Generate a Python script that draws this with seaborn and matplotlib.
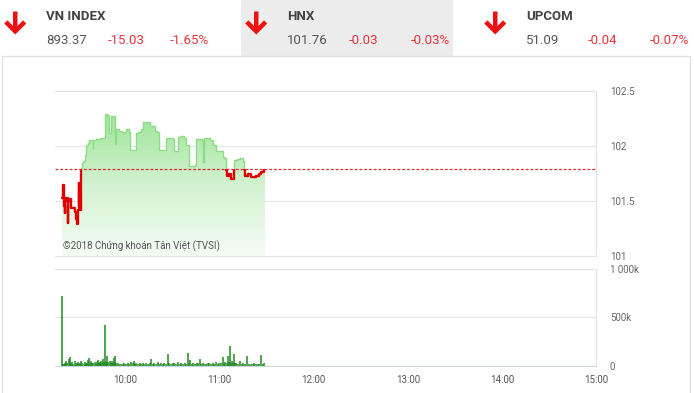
import numpy as np
import matplotlib
matplotlib.use("Agg")
import matplotlib.pyplot as plt
import seaborn as sns
from matplotlib import font_manager
from matplotlib.colors import LinearSegmentedColormap
from matplotlib.patches import Rectangle, Polygon

# ---------------- data ----------------
indices = ["VN INDEX", "HNX", "UPCOM"]
index_values = ["893.37", "101.76", "51.09"]
index_changes = ["-15.03", "-0.03", "-0.04"]
index_pcts = ["-1.65%", "-0.03%", "-0.07%"]

ref_price = 101.79

# minutes since 09:00
price_t = [19.3, 19.8, 20.2, 20.6, 21.1, 21.6, 22.1, 23.0, 23.5, 24.5, 25.4, 26.5, 27.5, 28.0,
           28.5, 29.0, 29.5, 30.0, 30.5, 31.0, 31.5, 32.0, 33.0, 34.0, 35.0, 36.0, 37.0, 38.0,
           39.0, 39.5, 41.0, 43.4, 45.0, 46.6, 48.0, 49.5, 50.5, 52.0, 53.0, 53.5, 54.0, 56.0,
           58.0, 60.0, 62.5, 63.0, 65.0, 66.8, 68.0, 70.0, 71.0, 73.0, 75.3, 77.0, 78.5, 80.0,
           81.6, 83.0, 85.9, 88.0, 90.0, 91.2, 92.5, 93.3, 95.0, 97.0, 98.6, 100.7, 102.0, 104.0,
           104.9, 107.0, 108.5, 109.2, 110.0, 112.0, 114.0, 115.6, 117.7, 120.0, 121.9, 123.0,
           124.0, 124.5, 126.0, 127.2, 128.5, 129.4, 131.0, 133.0, 135.0, 135.7, 136.0, 138.0,
           140.0, 141.0, 143.0, 145.0, 146.5, 148.5, 148.9]
price_v = [101.53, 101.60, 101.64, 101.45, 101.39, 101.50, 101.53, 101.30, 101.50, 101.52, 101.43,
           101.43, 101.42, 101.40, 101.33, 101.29, 101.42, 101.66, 101.45, 101.42, 101.80, 101.84,
           101.86, 101.92, 102.01, 102.03, 102.05, 102.05, 101.98, 102.05, 102.06, 102.07, 102.07,
           102.29, 102.28, 102.12, 102.27, 102.27, 102.10, 102.02, 102.15, 102.14, 102.13, 102.15,
           102.13, 101.96, 101.96, 102.12, 102.13, 102.15, 102.22, 102.22, 102.18, 102.18, 102.14,
           102.13, 101.96, 101.96, 102.07, 102.07, 102.06, 101.95, 101.95, 102.08, 102.09, 102.07,
           102.01, 101.82, 101.82, 101.83, 102.06, 102.06, 102.05, 101.85, 102.07, 102.07, 102.05,
           102.01, 101.95, 101.95, 101.90, 101.89, 101.78, 101.73, 101.74, 101.70, 101.70, 101.87,
           101.88, 101.89, 101.86, 101.79, 101.73, 101.74, 101.72, 101.72, 101.73, 101.74, 101.76,
           101.79, 101.79]

vol_t = [19.3, 20.0, 20.6, 21.1, 21.8, 22.2, 22.8, 23.7, 24.3, 24.7, 25.3, 25.8, 26.5, 27.5, 28.2,
         28.8, 29.6, 30.3, 31.0, 31.7, 32.5, 33.2, 33.9, 34.6, 35.3, 36.0, 36.8, 37.4, 38.1, 38.8,
         39.5, 40.2, 40.9, 41.6, 42.3, 43.0, 43.8, 44.5, 45.0, 45.5, 46.2, 47.0, 47.6, 48.3, 49.0,
         49.8, 50.5, 51.3, 51.9, 52.5, 53.0, 53.4, 54.2, 55.1, 56.0, 57.2, 58.2, 59.3, 60.4, 61.5,
         62.5, 63.6, 64.5, 65.3, 66.0, 66.8, 67.8, 68.9, 70.0, 71.0, 72.0, 73.1, 74.5, 75.5, 76.3,
         77.3, 78.4, 79.5, 80.6, 81.6, 82.7, 83.8, 84.8, 85.8, 86.9, 88.0, 89.1, 90.1, 91.2, 92.2,
         93.3, 94.4, 95.4, 96.5, 97.6, 98.6, 99.7, 100.5, 101.4, 102.1, 102.9, 104.1, 105.4, 106.4,
         107.5, 108.3, 109.2, 110.3, 111.4, 112.4, 113.5, 114.5, 115.6, 116.6, 117.7, 118.8, 119.9,
         121.0, 122.0, 122.8, 123.7, 124.5, 125.2, 125.9, 126.6, 127.3, 127.9, 128.5, 129.0, 129.8,
         130.5, 131.8, 133.0, 134.0, 135.1, 136.3, 137.5, 138.8, 140.0, 141.0, 142.1, 143.2, 144.3,
         145.4, 146.4, 147.5, 148.5]
vol_k = [722, 20, 15, 30, 18, 45, 25, 73, 30, 90, 20, 40, 22, 45, 20, 30, 38, 18, 25, 52, 28, 20,
         38, 25, 30, 62, 80, 30, 45, 25, 30, 38, 22, 35, 59, 28, 40, 52, 30, 69, 35, 416, 40, 97,
         35, 45, 30, 52, 25, 80, 40, 104, 25, 28, 18, 21, 15, 28, 20, 28, 22, 35, 25, 52, 18, 28,
         20, 28, 15, 28, 18, 28, 20, 25, 69, 20, 28, 22, 38, 18, 28, 20, 28, 22, 122, 25, 21, 25,
         28, 20, 38, 22, 28, 20, 28, 22, 132, 30, 62, 20, 28, 18, 28, 25, 69, 22, 28, 18, 21, 25,
         28, 20, 28, 22, 35, 22, 28, 30, 87, 25, 35, 30, 97, 40, 200, 30, 45, 28, 125, 25, 28, 22,
         52, 20, 28, 22, 104, 20, 21, 22, 28, 20, 21, 18, 115, 20, 28]

time_ticks = [60, 120, 180, 240, 300, 360]
time_labels = ["10:00", "11:00", "12:00", "13:00", "14:00", "15:00"]
price_ticks = [101, 101.5, 102, 102.5]
price_labels = ["101", "101.5", "102", "102.5"]
vol_ticks = [0, 500, 1000]
vol_labels = ["0", "500k", "1 000k"]

# ---------------- style ----------------
sns.set_style("white")
names = {f.name for f in font_manager.fontManager.ttflist}
hdr_font = "Liberation Sans Narrow" if "Liberation Sans Narrow" in names else "Roboto"
plt.rcParams["font.family"] = ["Roboto", "DejaVu Sans"]

W, H = 694, 393
fig = plt.figure(figsize=(W / 100, H / 100), dpi=100)

# background layer (pixel coordinates)
back = fig.add_axes([0, 0, 1, 1], zorder=-6)
back.set_xlim(0, W)
back.set_ylim(H, 0)
back.axis("off")
back.add_patch(Rectangle((241, 0), 212, 55.5, facecolor="#ececec", edgecolor="none"))
back.add_patch(Rectangle((2, 56), 688, 340, facecolor="white", edgecolor="#e2e2e2", lw=1))

# overlay layer for header texts / watermark (pixel coordinates)
over = fig.add_axes([0, 0, 1, 1], zorder=10)
over.set_xlim(0, W)
over.set_ylim(H, 0)
over.axis("off")
over.patch.set_visible(False)

red = "#e8343a"
blocks_x = [15, 256, 495]
arrow = [(13, 11.5), (17.5, 11.5), (17.5, 26), (23, 20.3), (26.3, 23.5), (15.25, 34.5),
         (4.2, 23.5), (7.5, 20.3), (13, 26)]
for i, bx in enumerate(blocks_x):
    over.add_patch(Polygon([(bx - 15 + x, y) for x, y in arrow], closed=True,
                           facecolor="#ee1111", edgecolor="none"))
    tx = bx + 31
    over.text(tx, 17, indices[i], fontsize=9.5, fontweight="bold", color="#444444",
              family=hdr_font, va="center", ha="left")
    over.text(tx, 40, index_values[i], fontsize=9.5, color="#555555", family=hdr_font,
              va="center", ha="left")
    over.text(tx + 62, 40, index_changes[i], fontsize=9.5, color=red, family=hdr_font,
              va="center", ha="left")
    over.text(tx + 124, 40, index_pcts[i], fontsize=9.5, color=red, family=hdr_font,
              va="center", ha="left")

over.text(63, 246, "©2018 Chứng khoán Tân Việt (TVSI)", fontsize=7, color="#555555",
          va="center", ha="left")

# chart panels
left, right = 55 / W, 596 / W
ax = fig.add_axes([left, 1 - 255.7 / H, right - left, (255.7 - 91) / H])
axv = fig.add_axes([left, 1 - 365.7 / H, right - left, (365.7 - 269) / H])
for a in (ax, axv):
    a.set_facecolor("none")

xmin, xmax = 15, 360
t = np.array(price_t)
p = np.array(price_v)

# gradient fill under price line
poly = ax.fill_between(t, p, 101, step="post", facecolor="none", edgecolor="none")
cmap = LinearSegmentedColormap.from_list("g", ["#f6fcf6", "#d2f2cf", "#9ce596"])
grad = np.linspace(0, 1, 256).reshape(-1, 1)
im = ax.imshow(grad, extent=[t[0], t[-1], 101, 102.32], aspect="auto", origin="lower",
               cmap=cmap, zorder=1, interpolation="bilinear")
im.set_clip_path(poly.get_paths()[0], ax.transData)

# price line: green above reference, red below
sns.lineplot(x=t, y=p, ax=ax, color="#8edc89", lw=1.0, drawstyle="steps-post",
             estimator=None, sort=False, zorder=3)
ln_g = ax.lines[-1]
ln_g.set_clip_path(Rectangle((xmin, ref_price), xmax - xmin, 5, transform=ax.transData))
sns.lineplot(x=t, y=p, ax=ax, color="#e00000", lw=1.7, drawstyle="steps-post",
             estimator=None, sort=False, zorder=4)
ln_r = ax.lines[-1]
ln_r.set_clip_path(Rectangle((xmin, 100), xmax - xmin, ref_price - 100, transform=ax.transData))

ax.axhline(ref_price, color="#e62828", lw=0.9, ls=(0, (2.2, 1.6)), zorder=5)

ax.set_xlim(xmin, xmax)
ax.set_ylim(101, 102.5)
ax.set_yticks(price_ticks)
ax.set_yticklabels(price_labels)
ax.set_xticks([])
ax.grid(axis="y", color="#e4e4e4", lw=0.8)
ax.set_axisbelow(True)

# volume bars
axv.vlines(vol_t, 0, vol_k, color="#1f8a1f", lw=1.1)
axv.set_xlim(xmin, xmax)
axv.set_ylim(0, 1000)
axv.set_yticks(vol_ticks)
axv.set_yticklabels(vol_labels)
axv.set_xticks(time_ticks)
axv.set_xticklabels(time_labels)
axv.grid(axis="y", color="#e4e4e4", lw=0.8)
axv.set_axisbelow(True)

for a in (ax, axv):
    a.yaxis.tick_right()
    a.tick_params(axis="y", length=0, pad=10, labelsize=7, labelcolor="#666666")
    a.spines["left"].set_visible(False)
    a.spines["right"].set_color("#dde2ea")
    a.spines["right"].set_linewidth(0.8)
    a.spines["top"].set_color("#e4e4e4")
    a.spines["top"].set_linewidth(0.8)
    a.spines["bottom"].set_color("#e4e4e4")
    a.spines["bottom"].set_linewidth(0.8)
    for lab in a.get_yticklabels():
        lab.set_horizontalalignment("left")
axv.spines["bottom"].set_color("#ccd6e0")
axv.tick_params(axis="x", length=4, color="#b8c8dc", width=0.8, labelsize=7,
                labelcolor="#555555", pad=3)

fig.savefig("out.png", dpi=100)
